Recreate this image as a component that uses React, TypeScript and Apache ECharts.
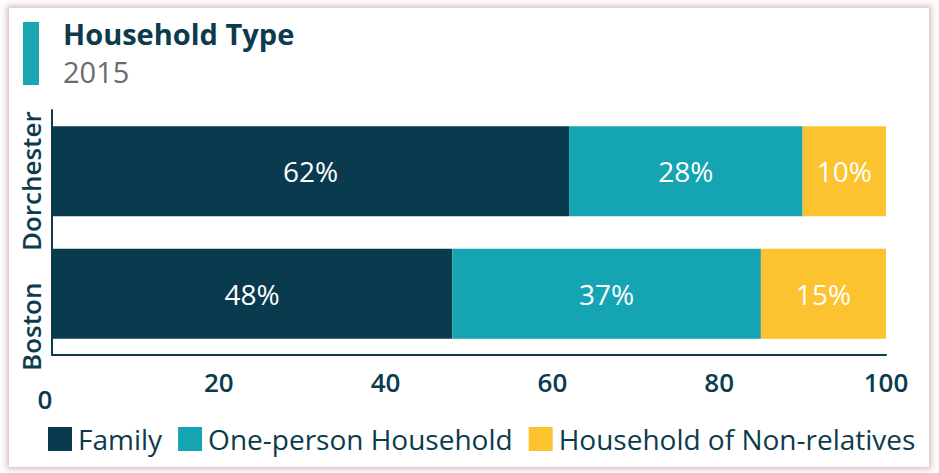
import React, { useEffect, useRef } from "react";
import * as echarts from "echarts";

const categories = ["Dorchester", "Boston"];
const seriesNames = ["Family", "One-person Household", "Household of Non-relatives"];
const family = [62, 48];
const onePerson = [28, 37];
const nonRelatives = [10, 15];
const xTicks = [0, 20, 40, 60, 80, 100];
const colors = ["#0a3a4e", "#15a4b1", "#fcc22f"];
const FONT = "Open Sans";
const DARK = "#0d3b4e";

export default function App() {
  const ref = useRef<HTMLDivElement>(null);
  useEffect(() => {
    const chart = echarts.init(ref.current!, null, { renderer: "svg" });
    const values = [family, onePerson, nonRelatives];
    chart.setOption({
      animation: false,
      textStyle: { fontFamily: FONT },
      grid: { left: 52, right: 53, top: 110, bottom: 118, containLabel: false },
      graphic: [
        { type: "rect", shape: { x: 23, y: 22, width: 16, height: 63 }, style: { fill: "#19a6b2" } },
        {
          type: "text",
          x: 63,
          y: 19,
          style: { text: "Household Type", fill: DARK, font: `700 29px '${FONT}'`, textVerticalAlign: "top" },
        },
        {
          type: "text",
          x: 63,
          y: 57,
          style: { text: "2015", fill: "#6b6b6b", font: `400 29px '${FONT}'`, textVerticalAlign: "top" },
        },
      ],
      legend: {
        left: 48,
        top: 425,
        padding: 0,
        itemWidth: 24,
        itemHeight: 24,
        itemGap: 16,
        icon: "rect",
        textStyle: { color: DARK, fontSize: 28, fontFamily: FONT, fontWeight: 500, padding: [0, 0, 0, 1] },
        data: seriesNames,
      },
      xAxis: {
        type: "value",
        min: 0,
        max: 100,
        interval: 20,
        axisLine: { show: true, lineStyle: { color: DARK, width: 2 } },
        axisTick: { show: false },
        splitLine: { show: false },
        axisLabel: {
          color: DARK,
          fontSize: 26,
          fontWeight: 600,
          margin: 14,
          formatter: (v: number) => (v === xTicks[0] ? "{z|" + v + "}" : String(v)),
          rich: { z: { fontSize: 26, fontWeight: 600, color: DARK, padding: [17, 14, 0, 0] } },
        },
      },
      yAxis: {
        type: "category",
        data: categories,
        inverse: true,
        axisLine: { show: true, lineStyle: { color: DARK, width: 2 } },
        axisTick: { show: false },
        axisLabel: {
          interval: 0,
          hideOverlap: false,
          rotate: 90,
          color: DARK,
          fontSize: 26,
          fontWeight: 600,
          margin: 8,
          formatter: (v: string) => (v === categories[0] ? "{d|" + v + "}" : "{b|" + v + "}"),
          rich: {
            d: { fontSize: 26, fontWeight: 600, color: DARK, padding: [0, 20, 0, 0] },
            b: { fontSize: 26, fontWeight: 600, color: DARK, padding: [0, 66, 0, 0] },
          },
        },
      },
      series: seriesNames.map((name, i) => ({
        name,
        type: "bar",
        stack: "total",
        barWidth: 90,
        itemStyle: { color: colors[i] },
        label: {
          show: true,
          position: "inside",
          color: "#ffffff",
          fontSize: 28,
          fontWeight: 500,
          fontFamily: FONT,
          formatter: (p: any) => p.value + "%",
        },
        data: values[i],
      })),
    });
    return () => chart.dispose();
  }, []);
  return (
    <div style={{ position: "fixed", left: 0, top: 0, width: 939, height: 473, background: "#fdfbfb" }}>
      <div
        style={{
          position: "absolute",
          left: 9,
          top: 8,
          width: 920,
          height: 459,
          background: "#ffffff",
          boxShadow: "0 0 5px 2px rgba(185,140,140,0.55)",
        }}
      />
      <div ref={ref} style={{ position: "absolute", left: 0, top: 0, width: 939, height: 473 }} />
    </div>
  );
}
